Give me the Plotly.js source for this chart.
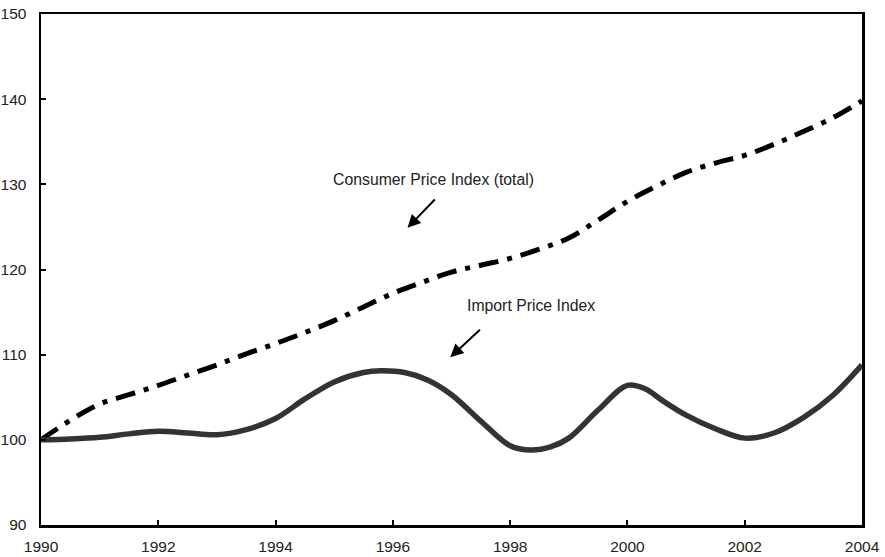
<!DOCTYPE html>
<html>
<head>
<meta charset="utf-8">
<script src="https://cdn.plot.ly/plotly-3.0.1.min.js"></script>
<style>html,body{margin:0;padding:0;background:#fff;}#chart{width:885px;height:557px;}</style>
</head>
<body>
<div id="chart"></div>
<script>
var cpiYears = [1990, 1990.5, 1991, 1991.5, 1992, 1992.5, 1993, 1993.5, 1994, 1994.5, 1995, 1995.5, 1996, 1996.5, 1997, 1997.5, 1998, 1998.5, 1999, 1999.5, 2000, 2000.5, 2001, 2001.5, 2002, 2002.5, 2003, 2003.5, 2004];
var cpiValues = [100, 102.3, 104.2, 105.3, 106.4, 107.6, 108.8, 110.1, 111.3, 112.6, 114.0, 115.6, 117.2, 118.5, 119.7, 120.5, 121.3, 122.4, 123.7, 125.8, 128.0, 129.8, 131.4, 132.5, 133.4, 134.7, 136.2, 137.8, 139.8];
var impYears = [1990, 1990.5, 1991, 1991.5, 1992, 1992.5, 1993, 1993.5, 1994, 1994.5, 1995, 1995.5, 1995.8, 1996.2, 1996.6, 1997, 1997.5, 1998, 1998.35, 1998.7, 1999, 1999.5, 2000, 2000.3, 2000.6, 2001, 2001.5, 2002, 2002.5, 2003, 2003.5, 2004];
var impValues = [100, 100.1, 100.3, 100.7, 101.0, 100.8, 100.6, 101.2, 102.5, 104.8, 106.8, 107.9, 108.1, 107.9, 107.0, 105.3, 102.2, 99.3, 98.8, 99.2, 100.2, 103.5, 106.4, 106.0, 104.6, 102.9, 101.3, 100.2, 100.8, 102.6, 105.2, 108.8];
var xTicks = [1990, 1992, 1994, 1996, 1998, 2000, 2002, 2004];
var yTicks = [90, 100, 110, 120, 130, 140, 150];
var labelCPI = 'Consumer Price Index (total)';
var labelImport = 'Import Price Index';

var traces = [
  {x: cpiYears, y: cpiValues, type: 'scatter', mode: 'lines', name: labelCPI,
   line: {color: '#000', width: 5, dash: '20px,9px,5px,9px', shape: 'spline'}},
  {x: impYears, y: impValues, type: 'scatter', mode: 'lines', name: labelImport,
   line: {color: '#333', width: 5.5, shape: 'spline'}}
];

var axFont = {family: 'Liberation Sans, Arial, sans-serif', size: 15.5, color: '#222'};
var annFont = {family: 'Liberation Sans, Arial, sans-serif', size: 15.8, color: '#222'};
var layout = {
  width: 885, height: 557,
  margin: {l: 41, r: 23, t: 14, b: 32},
  paper_bgcolor: '#fff', plot_bgcolor: '#fff',
  showlegend: false,
  xaxis: {range: [1990, 2004], tickvals: xTicks, ticktext: xTicks.map(String),
          showgrid: false, zeroline: false, showline: true, linecolor: '#000', linewidth: 2.5,
          mirror: true, ticks: 'inside', ticklen: 5, tickwidth: 2, tickcolor: '#000',
          tickfont: axFont, ticklabelstandoff: 6},
  yaxis: {range: [90, 150], tickvals: yTicks, ticktext: yTicks.map(String),
          showgrid: false, zeroline: false, showline: true, linecolor: '#000', linewidth: 2.5,
          mirror: true, ticks: 'inside', ticklen: 5, tickwidth: 2, tickcolor: '#000',
          tickfont: axFont, ticklabelstandoff: 9},
  annotations: [
    {x: 1996.69, y: 130.6, xref: 'x', yref: 'y', text: labelCPI, showarrow: false, font: annFont},
    {x: 1998.36, y: 115.8, xref: 'x', yref: 'y', text: labelImport, showarrow: false, font: annFont},
    {x: 1996.25, y: 124.9, xref: 'x', yref: 'y', ax: 1996.74, ay: 128.4, axref: 'x', ayref: 'y',
     text: '', showarrow: true, arrowhead: 2, arrowsize: 1.3, arrowwidth: 2, arrowcolor: '#000'},
    {x: 1996.98, y: 109.7, xref: 'x', yref: 'y', ax: 1997.51, ay: 113.1, axref: 'x', ayref: 'y',
     text: '', showarrow: true, arrowhead: 2, arrowsize: 1.3, arrowwidth: 2, arrowcolor: '#000'}
  ]
};
Plotly.newPlot('chart', traces, layout, {displayModeBar: false, staticPlot: true});
</script>
</body>
</html>
